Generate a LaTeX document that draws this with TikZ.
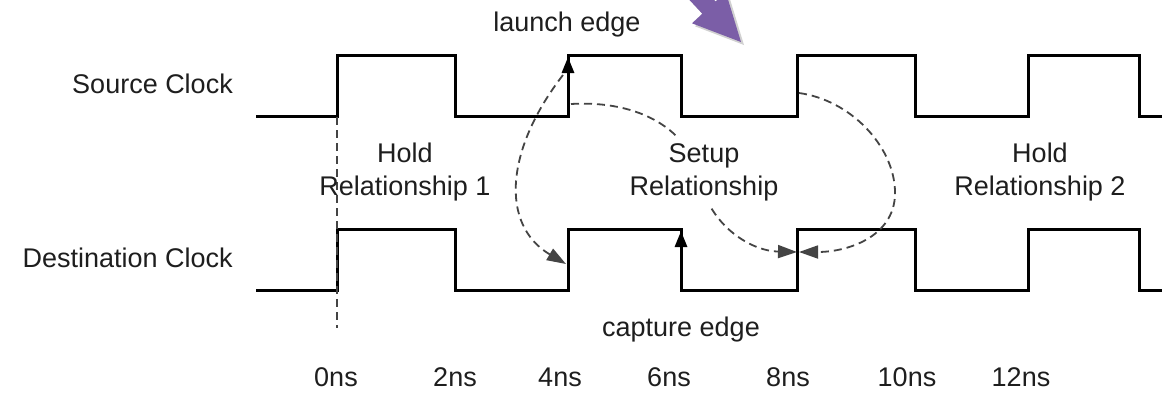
\documentclass[tikz,border=0pt]{standalone}
\usepackage{fontspec}
\setmainfont{Liberation Sans}
\usetikzlibrary{arrows.meta}
\definecolor{ink}{HTML}{1E1E1E}
\definecolor{dashgray}{HTML}{444444}
\definecolor{arrowpurple}{HTML}{7B5EA7}

\begin{document}
\begin{tikzpicture}[x=1pt,y=-1pt,
  wave/.style={line width=3pt, line join=miter, black},
  link/.style={dashgray, line width=1.8pt, dash pattern=on 8pt off 5pt,
    -{Triangle[length=19pt,width=13pt]}},
  marker/.style={dashgray, line width=1.7pt, dash pattern=on 8pt off 5pt},
  edgetip/.style={line width=3pt, black, -{Triangle[length=16pt,width=12pt]}},
  lbl/.style={font=\fontsize{27}{33}\selectfont, text=ink, inner sep=0pt},
  rel/.style={lbl, align=center},
]
\clip (0,0) rectangle (1173,392);
\fill[white] (0,0) rectangle (1173,392);

% big pointer arrow at the top, with a soft offset shadow
\fill[black, opacity=0.18]
  (744,45) -- (695,26.3) -- (705.3,16.7) -- (635,-58.6) -- (648.3,-70.8)
  -- (718.5,4.5) -- (728.7,-5.1) -- cycle;
\fill[arrowpurple]
  (741,42) -- (692,23.3) -- (702.3,13.7) -- (632,-61.6) -- (645.3,-73.8)
  -- (715.5,1.5) -- (725.7,-8.1) -- cycle;

% source clock waveform
\draw[wave] (256,116) -- (337,116) coordinate (s0) -- (337,55) -- (455,55) -- (455,116)
  -- (568,116) coordinate (s4lo) -- (568,55) coordinate (s4hi) -- (681,55) -- (681,116)
  -- (797,116) coordinate (s8lo) -- (797,55) coordinate (s8hi) -- (915,55) -- (915,116)
  -- (1028,116) -- (1028,55) -- (1139,55) -- (1139,116) -- (1162,116);

% destination clock waveform
\draw[wave] (256,290) -- (337,290) -- (337,229) -- (455,229) -- (455,290)
  -- (568,290) coordinate (d4lo) -- (568,229) -- (681,229) coordinate (d6hi)
  -- (681,290) coordinate (d6lo)
  -- (797,290) -- (797,229) -- (915,229) -- (915,290)
  -- (1028,290) -- (1028,229) -- (1139,229) -- (1139,290) -- (1162,290);

% edge points used by the relationship arrows
\coordinate (launchA) at (563,75);
\coordinate (launchB) at (571,104);
\coordinate (launchC) at (799,93);
\coordinate (cap4) at (566,264);
\coordinate (cap8l) at (797,252);
\coordinate (cap8r) at (799,252);
\coordinate (zeroTop) at (337,117);
\coordinate (zeroBot) at (337,328);

% 0 ns reference marker
\draw[marker] (zeroTop) -- (zeroBot);

% hold relationship 1
\draw[link] (launchA) .. controls (505,150) and (500,225) .. (cap4);
% setup relationship
\draw[link] (launchB) .. controls (640,100) and (690,130) .. (700,180)
  .. controls (710,225) and (750,251) .. (cap8l);
% hold relationship 2
\draw[link] (launchC) .. controls (850,100) and (893,145) .. (895,190)
  .. controls (897,235) and (850,252) .. (cap8r);

% launch and capture edge markers
\draw[edgetip] (568,100) -- (568,57);
\draw[edgetip] (681,275) -- (681,231);

% labels
\node[lbl, anchor=base east] (srcname) at (233,93) {Source Clock};
\node[lbl, anchor=base east] (dstname) at (233,267) {Destination Clock};
\node[lbl, anchor=base] (launch) at (567,31) {launch edge};
\node[lbl, anchor=base] (capture) at (681,336) {capture edge};
\node[rel] (hold1) at (405,172.5) {Hold\\Relationship 1};
\node[rel, fill=white, inner sep=7pt] (setup) at (704,172.5) {Setup\\Relationship};
\node[rel] (hold2) at (1040,172.5) {Hold\\Relationship 2};

% time axis
\node[lbl, anchor=base] (t0) at (336,386) {0ns};
\node[lbl, anchor=base] (t2) at (455,386) {2ns};
\node[lbl, anchor=base] (t4) at (560,386) {4ns};
\node[lbl, anchor=base] (t6) at (669,386) {6ns};
\node[lbl, anchor=base] (t8) at (788,386) {8ns};
\node[lbl, anchor=base] (t10) at (907,386) {10ns};
\node[lbl, anchor=base] (t12) at (1021,386) {12ns};
\end{tikzpicture}
\end{document}
